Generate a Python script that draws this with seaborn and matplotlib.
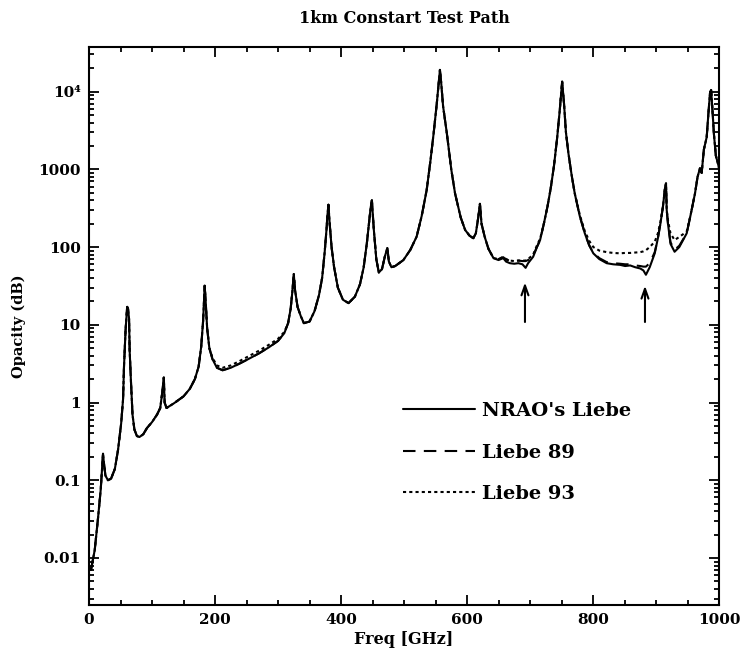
import matplotlib
matplotlib.use("Agg")
import matplotlib.pyplot as plt
import matplotlib.ticker as mticker
import pandas as pd
import seaborn as sns

# frequency grid shared by the three models (GHz)
freq_ghz = [
    3, 9, 14, 18.5, 20.6, 22.2, 23.5, 26, 30, 35,
    41, 46, 51, 54, 55.5, 58, 60.5, 62, 63.5, 64.5,
    66.5, 69, 72, 76, 80, 86, 92, 100, 108, 113,
    116.5, 118.7, 120, 123, 135, 150, 160, 168, 174, 178,
    181, 182.5, 183.5, 185, 187.5, 191, 196, 203, 212, 225,
    240, 255, 270, 285, 300, 310, 316, 320, 323, 325,
    327, 331, 336, 341, 350, 358, 365, 370, 374, 377,
    378.5, 380, 382, 385, 389, 395, 403, 412, 422, 430,
    436, 441, 444.5, 447, 449, 452, 456, 460, 465, 469.5,
    473.5, 476, 480, 486, 499, 510, 520, 528, 536, 542,
    547, 552, 555, 557, 559, 562, 568, 575, 581, 590,
    597, 604, 610, 614, 617.5, 620.5, 623, 628, 634, 642,
    650, 657.5, 662, 668, 675, 681.5, 688, 693, 697, 705,
    711, 716, 722, 728, 733, 738, 743, 747, 751, 754,
    757, 761, 766, 771, 779, 787, 794, 800.5, 810, 821.7,
    832, 843, 851, 859, 867, 875, 880, 884, 890, 898,
    903, 907, 911, 914, 915.9, 917, 919, 923, 929.5, 937,
    948.7, 955, 961.9, 966, 969.8, 972.5, 976, 980.5, 983, 985.7,
    987.5, 989.5, 992, 995, 1000,
]

# opacity (dB) for "NRAO's Liebe"
nrao_liebe = [
    0.007, 0.0126, 0.031, 0.075, 0.14, 0.22, 0.17, 0.115, 0.10, 0.105,
    0.14, 0.245, 0.54, 1.1, 2.9, 8.5, 17, 16, 12, 4.6,
    1.9, 0.7, 0.45, 0.37, 0.36, 0.39, 0.47, 0.56, 0.7, 0.85,
    1.4, 2.1, 1.0, 0.85, 0.98, 1.2, 1.5, 2.0, 2.9, 5.2,
    11, 20, 32, 21, 9, 5, 3.6, 2.8, 2.6, 2.8,
    3.2, 3.7, 4.3, 5.1, 6.2, 7.8, 10.5, 16, 28, 45,
    28, 17, 13, 10.5, 11, 15, 24, 40, 85, 170,
    260, 350, 200, 100, 55, 30, 21, 19, 23, 33,
    55, 112, 210, 320, 400, 170, 70, 47, 52, 75,
    97, 65, 55, 57, 68, 92, 136, 250, 543, 1300,
    2900, 7000, 13000, 19000, 13000, 6500, 2900, 1000, 490, 240,
    166, 140, 130, 150, 230, 360, 200, 136, 95, 72,
    68, 72, 65, 62, 61, 62, 60, 54, 62, 75,
    100, 123, 200, 340, 580, 1100, 2500, 5500, 13400, 7000,
    3000, 1600, 850, 490, 250, 150, 105, 83, 70, 62,
    60, 59, 57, 58, 55, 53, 50, 44, 55, 83,
    130, 200, 330, 550, 660, 300, 200, 110, 87, 100,
    150, 260, 490, 800, 1030, 900, 1800, 2600, 5000, 9500,
    10500, 6000, 2800, 1500, 1050,
]

# opacity (dB) for "Liebe 89"
liebe_89 = [
    0.007, 0.0126, 0.031, 0.075, 0.14, 0.22, 0.17, 0.115, 0.10, 0.105,
    0.14, 0.245, 0.54, 1.1, 2.9, 8.5, 17, 16, 12, 4.6,
    1.9, 0.7, 0.45, 0.37, 0.36, 0.39, 0.47, 0.56, 0.7, 0.85,
    1.4, 2.1, 1.0, 0.85, 0.98, 1.2, 1.5, 2.0, 2.9, 5.2,
    11, 20, 32, 21, 9, 5, 3.6, 2.8, 2.6, 2.8,
    3.2, 3.7, 4.3, 5.1, 6.2, 7.8, 10.5, 16, 28, 45,
    28, 17, 13, 10.5, 11, 15, 24, 40, 85, 170,
    260, 350, 200, 100, 55, 30, 21, 19, 23, 33,
    55, 112, 210, 320, 400, 170, 70, 47, 52, 75,
    97, 65, 55, 57, 68, 92, 136, 250, 543, 1300,
    2900, 7000, 13000, 19000, 13000, 6500, 2900, 1000, 490, 240,
    166, 140, 130, 150, 230, 360, 200, 136, 95, 72,
    70, 74, 69, 67, 66, 67, 66, 66, 68, 78,
    100, 123, 200, 340, 580, 1100, 2500, 5500, 13400, 7000,
    3000, 1600, 850, 490, 250, 150, 105, 85, 72, 64,
    62, 61, 60, 60, 58, 57, 56, 56, 62, 86,
    130, 200, 330, 550, 660, 300, 200, 115, 92, 104,
    150, 260, 490, 800, 1030, 900, 1800, 2600, 5000, 9500,
    10500, 6000, 2800, 1500, 1050,
]

# opacity (dB) for "Liebe 93"
liebe_93 = [
    0.007, 0.0126, 0.031, 0.075, 0.14, 0.22, 0.17, 0.115, 0.10, 0.105,
    0.14, 0.245, 0.54, 1.1, 2.9, 8.5, 17, 16, 12, 4.6,
    1.9, 0.7, 0.45, 0.37, 0.36, 0.39, 0.47, 0.56, 0.7, 0.85,
    1.4, 2.1, 1.0, 0.85, 0.98, 1.2, 1.5, 2.0, 2.9, 5.2,
    11, 20, 32, 21, 9, 5, 3.75, 3.0, 2.8, 3.0,
    3.45, 4.0, 4.65, 5.5, 6.6, 8.1, 10.5, 16, 28, 45,
    28, 17, 13, 10.5, 11, 15, 24, 40, 85, 170,
    260, 350, 200, 100, 55, 30, 21, 19, 23, 33,
    55, 112, 210, 320, 400, 170, 70, 47, 52, 75,
    97, 65, 55, 57, 68, 92, 136, 250, 543, 1300,
    2900, 7000, 13000, 19000, 13000, 6500, 2900, 1000, 490, 240,
    166, 140, 130, 150, 230, 360, 200, 136, 95, 72,
    70, 75, 70, 67, 66, 67, 67, 67, 70, 80,
    105, 128, 200, 340, 580, 1100, 2500, 5500, 13400, 7000,
    3000, 1600, 850, 490, 260, 160, 120, 100, 90, 86,
    84, 83, 84, 84, 85, 86, 88, 91, 100, 117,
    150, 210, 330, 550, 660, 300, 220, 150, 123, 135,
    158, 260, 490, 800, 1030, 900, 1800, 2600, 5000, 9500,
    10500, 6000, 2800, 1500, 1050,
]

model_names = ["NRAO's Liebe", "Liebe 89", "Liebe 93"]
arrow_freqs = [692, 882.5]
arrow_tops = [38, 34.5]
arrow_bottoms = [10, 10]

ytick_vals = [0.01, 0.1, 1, 10, 100, 1000, 10000]
ytick_labels = ["0.01", "0.1", "1", "10", "100", "1000", "10\u2074"]

sns.set_style("ticks")
plt.rcParams["font.family"] = ["DejaVu Serif"]
plt.rcParams["font.weight"] = "bold"
for key in ["text.color", "axes.labelcolor", "xtick.color", "ytick.color"]:
    plt.rcParams[key] = "black"

fig, ax = plt.subplots(figsize=(7.42, 6.51), dpi=100)
fig.subplots_adjust(left=0.12, right=0.969, top=0.928, bottom=0.071)

series = [nrao_liebe, liebe_89, liebe_93]
styles = ["-", (0, (6, 4)), (0, (1.5, 1.5))]
for name, vals, ls in zip(model_names, series, styles):
    df = pd.DataFrame({"freq": freq_ghz, "opacity": vals})
    sns.lineplot(data=df, x="freq", y="opacity", ax=ax, color="black",
                 lw=1.5, linestyle=ls, label=name, estimator=None, sort=False)

ax.set_yscale("log")
ax.set_xlim(0, 1000)
ax.set_ylim(0.0025, 37600)

ax.xaxis.set_major_locator(mticker.MultipleLocator(200))
ax.xaxis.set_minor_locator(mticker.MultipleLocator(50))
ax.yaxis.set_major_locator(mticker.FixedLocator(ytick_vals))
ax.yaxis.set_major_formatter(mticker.FixedFormatter(ytick_labels))
ax.yaxis.set_minor_locator(mticker.LogLocator(base=10, subs=range(2, 10)))
ax.yaxis.set_minor_formatter(mticker.NullFormatter())

ax.tick_params(which="both", direction="in", top=True, right=True, width=1.3,
               color="black", labelcolor="black")
ax.tick_params(which="major", length=7, labelsize=11, pad=6)
ax.tick_params(which="minor", length=3.5)
for s in ax.spines.values():
    s.set_linewidth(1.5)
    s.set_color("black")

for f, top, bot in zip(arrow_freqs, arrow_tops, arrow_bottoms):
    ax.annotate("", xy=(f, top), xytext=(f, bot),
                arrowprops=dict(arrowstyle="->,head_length=0.7,head_width=0.25",
                                lw=1.5, color="black"))

ax.set_xlabel("Freq [GHz]", fontsize=11.5, fontweight="bold", labelpad=3)
ax.set_ylabel("Opacity (dB)", fontsize=10.5, fontweight="bold", labelpad=9)
ax.set_title("1km Constart Test Path", fontsize=11.5, fontweight="bold", pad=17)

ax.legend(loc="upper left", bbox_to_anchor=(0.498, 0.363), frameon=False,
          fontsize=14, handlelength=3.7, handletextpad=0.4, labelspacing=1.2,
          borderpad=0, borderaxespad=0, labelcolor="black")

fig.savefig("out.png", dpi=100)
